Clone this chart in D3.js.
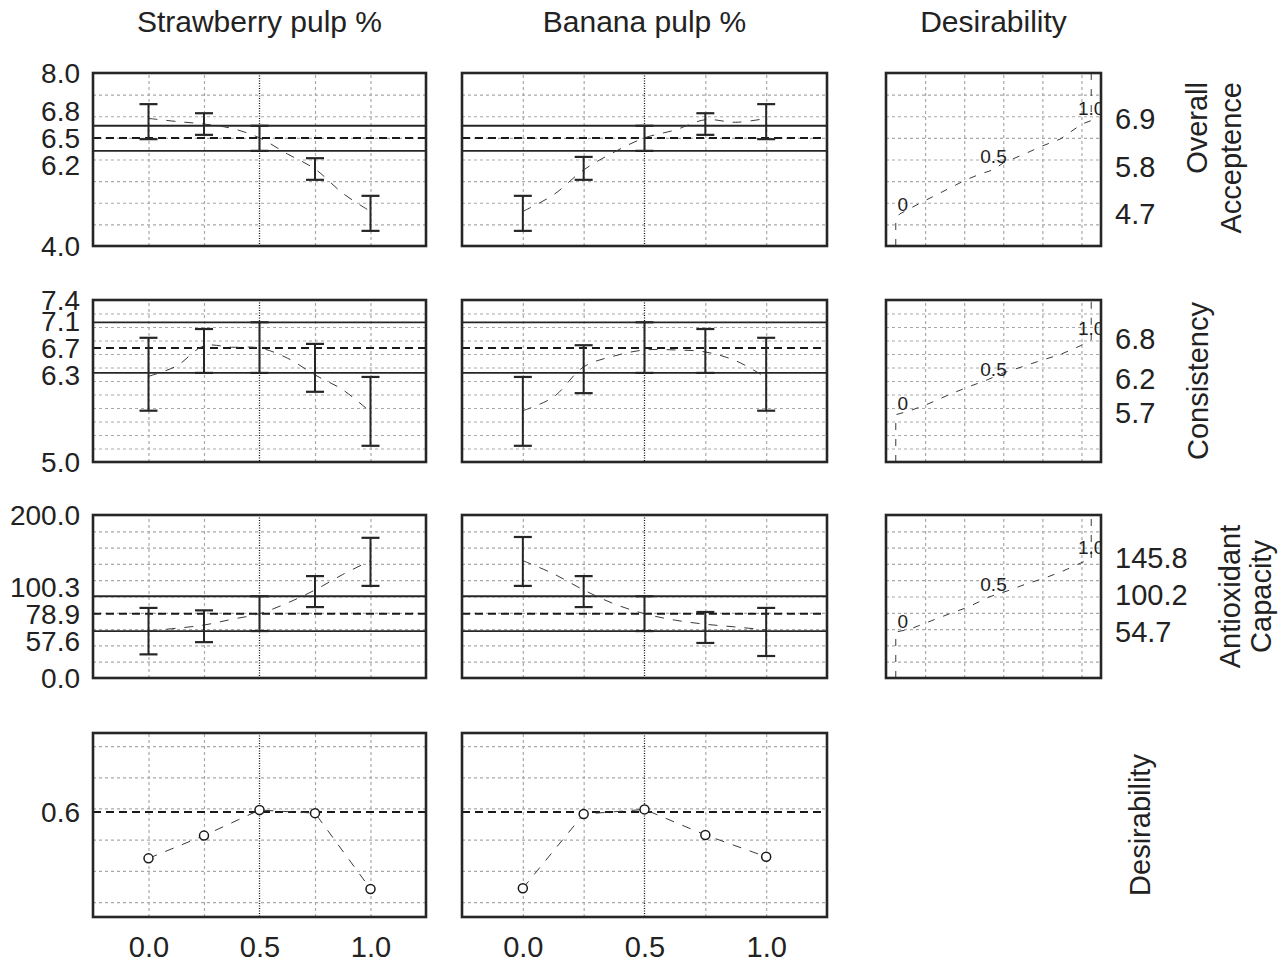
<!DOCTYPE html>
<html>
<head>
<meta charset="utf-8">
<script src="https://cdn.jsdelivr.net/npm/d3@7"></script>
<style>
  body { margin: 0; background: #fff; }
  text { font-family: "Liberation Sans", Arial, sans-serif; fill: #222; }
</style>
</head>
<body>
<svg id="chart" width="1287" height="962"></svg>
<script>
const colNames = ["Strawberry pulp %", "Banana pulp %", "Desirability"];
const rowNames = [["Overall", "Acceptence"], ["Consistency"], ["Antioxidant", "Capacity"], ["Desirability"]];

const levels = [0, 0.25, 0.5, 0.75, 1.0];
const traceLevels = [0, 0.125, 0.25, 0.375, 0.5, 0.625, 0.75, 0.875, 1.0];
const factorGrid = [0, 0.25, 0.75, 1.0];
const currentLevel = 0.5;
const xTickValues = [0, 0.5, 1.0];

// Overall acceptence
const accDomain = [4.0, 8.0];
const accGrid = [4.5, 5.0, 5.5, 6.0, 6.5, 7.0, 7.5];
const accPred = 6.5;
const accCI = [6.2, 6.78];
const accStrawLow = [6.47, 6.57, 6.2, 5.53, 4.35];
const accStrawHigh = [7.28, 7.07, 6.78, 6.03, 5.16];
const accBananaLow = [4.35, 5.53, 6.2, 6.57, 6.47];
const accBananaHigh = [5.16, 6.06, 6.78, 7.07, 7.28];
const accStrawTrace = [6.95, 6.88, 6.82, 6.72, 6.5, 6.13, 5.78, 5.22, 4.8];
const accBananaTrace = [4.8, 5.18, 5.76, 6.17, 6.5, 6.68, 6.92, 6.86, 6.95];
const accDesirLabels = [4.7, 5.8, 6.9];
const accDesirD = [0, 0, 0.02, 0.124, 0.359, 0.43, 0.497, 0.55, 0.66, 0.748, 0.84, 0.953, 1.0, 1.0];
const accDesirV = [4.0, 4.65, 4.74, 4.99, 5.53, 5.66, 5.76, 5.92, 6.13, 6.31, 6.47, 6.82, 6.9, 8.0];

// Consistency
const conDomain = [5.0, 7.4];
const conGrid = [5.2, 5.4, 5.6, 5.8, 6.0, 6.2, 6.4, 6.6, 6.8, 7.0, 7.2];
const conPred = 6.69;
const conCI = [6.32, 7.07];
const conStrawLow = [5.76, 6.32, 6.32, 6.04, 5.24];
const conStrawHigh = [6.84, 6.97, 7.07, 6.75, 6.26];
const conBananaLow = [5.24, 6.02, 6.32, 6.32, 5.76];
const conBananaHigh = [6.26, 6.73, 7.07, 6.97, 6.84];
const conStrawTrace = [6.27, 6.42, 6.72, 6.70, 6.69, 6.54, 6.29, 6.07, 5.74];
const conBananaTrace = [5.76, 5.96, 6.41, 6.57, 6.66, 6.66, 6.63, 6.5, 6.25];
const conDesirLabels = [5.7, 6.2, 6.8];
const conDesirD = [0, 0, 0.073, 0.165, 0.267, 0.359, 0.462, 0.559, 0.646, 0.738, 0.84, 0.943, 1.0, 1.0];
const conDesirV = [5.0, 5.70, 5.76, 5.86, 5.99, 6.10, 6.21, 6.33, 6.41, 6.50, 6.59, 6.72, 6.81, 7.4];

// Antioxidant capacity
const antDomain = [0, 200];
const antGrid = [20, 40, 60, 80, 100, 120, 140, 160, 180];
const antPred = 78.9;
const antCI = [57.6, 100.3];
const antStrawLow = [29, 44, 57.6, 87, 113];
const antStrawHigh = [86, 83, 100.3, 125, 172];
const antBananaLow = [113, 87, 57.6, 43, 27];
const antBananaHigh = [173, 125, 100.3, 81, 86];
const antStrawTrace = [58, 61, 65, 72, 78.9, 92, 108, 127, 144];
const antBananaTrace = [144, 128, 108, 91, 78.9, 71, 66, 62.6, 59];
const antDesirLabels = [54.7, 100.2, 145.8];
const antDesirD = [0, 0, 0.073, 0.18, 0.272, 0.37, 0.477, 0.569, 0.666, 0.763, 0.856, 0.958, 1.0, 1.0];
const antDesirV = [0, 56.4, 60, 70, 78.5, 87, 99.4, 106.7, 115.3, 122.7, 131.3, 142.3, 146, 200];

// Desirability
const desDomain = [0.252, 0.842];
const desGrid = [0.3, 0.4, 0.5, 0.6, 0.7, 0.8];
const desPred = 0.589;
const desStraw = [0.44, 0.513, 0.595, 0.585, 0.342];
const desBanana = [0.344, 0.582, 0.597, 0.515, 0.445];

const desirCurveTicks = [0, 0.5, 1.0];
const desirCurveText = ["0", "0.5", "1.0"];
const desirGrid = [0.15, 0.35, 0.55, 0.75, 0.95];

// ---- layout ----
const colX = [[93, 426], [462, 827]];
const desX = [886, 1101];
const rowY = [[73, 246], [300, 462], [515, 678], [733, 917]];
const rowLabelX = [[1207, 1241], [1208], [1240, 1271], [1150]];
const rowLabelAnchor = [{ anchor: "end", y: 82 }, null, null, null];
const labelGap = 27;
const ink = "#262626";
const fmt = d3.format(".1f");

const rows = [
  { domain: accDomain, grid: accGrid, pred: accPred, ci: accCI, range: true,
    factors: [{ lo: accStrawLow, hi: accStrawHigh, trace: accStrawTrace },
              { lo: accBananaLow, hi: accBananaHigh, trace: accBananaTrace }],
    desir: { d: accDesirD, v: accDesirV, labels: accDesirLabels } },
  { domain: conDomain, grid: conGrid, pred: conPred, ci: conCI, range: true,
    factors: [{ lo: conStrawLow, hi: conStrawHigh, trace: conStrawTrace },
              { lo: conBananaLow, hi: conBananaHigh, trace: conBananaTrace }],
    desir: { d: conDesirD, v: conDesirV, labels: conDesirLabels } },
  { domain: antDomain, grid: antGrid, pred: antPred, ci: antCI, range: true,
    factors: [{ lo: antStrawLow, hi: antStrawHigh, trace: antStrawTrace },
              { lo: antBananaLow, hi: antBananaHigh, trace: antBananaTrace }],
    desir: { d: antDesirD, v: antDesirV, labels: antDesirLabels } },
  { domain: desDomain, grid: desGrid, pred: desPred, ci: null, range: false,
    factors: [{ points: desStraw }, { points: desBanana }],
    desir: null }
];

const svg = d3.select("#chart");
const defs = svg.append("defs");

function clipRect(id, x0, y0, x1, y1) {
  defs.append("clipPath").attr("id", id)
    .append("rect").attr("x", x0).attr("y", y0).attr("width", x1 - x0).attr("height", y1 - y0);
  return `url(#${id})`;
}

function drawGrid(g, x, y, xs, ys) {
  const [x0, x1] = x.range(), [y1, y0] = y.range();
  g.append("g").attr("transform", `translate(${x0},0)`)
    .call(d3.axisLeft(y).tickValues(ys).tickSize(-(x1 - x0)).tickFormat(""))
    .call(a => a.select(".domain").remove())
    .selectAll("line").attr("stroke", "#a9a9a9").attr("stroke-width", 1.2).attr("stroke-dasharray", "3,3");
  g.append("g").attr("transform", `translate(0,${y1})`)
    .call(d3.axisBottom(x).tickValues(xs).tickSize(-(y1 - y0)).tickFormat(""))
    .call(a => a.select(".domain").remove())
    .selectAll("line").attr("stroke", "#a9a9a9").attr("stroke-width", 1.2).attr("stroke-dasharray", "3,3");
}

function frame(x0, y0, x1, y1) {
  svg.append("rect").attr("x", x0).attr("y", y0).attr("width", x1 - x0).attr("height", y1 - y0)
    .attr("fill", "none").attr("stroke", ink).attr("stroke-width", 2.6);
}

rows.forEach((row, ri) => {
  const [y0, y1] = rowY[ri];
  const y = d3.scaleLinear().domain(row.domain).range([y1, y0]);

  // factor panels
  row.factors.forEach((f, ci) => {
    const [x0, x1] = colX[ci];
    const x = d3.scaleLinear().domain([-0.25, 1.25]).range([x0, x1]);
    const g = svg.append("g").attr("clip-path", clipRect(`c${ri}${ci}`, x0, y0, x1, y1));
    drawGrid(g, x, y, factorGrid, row.grid);

    // current setting
    g.append("line").attr("x1", x(currentLevel)).attr("x2", x(currentLevel)).attr("y1", y0).attr("y2", y1)
      .attr("stroke", "#111").attr("stroke-width", 1.3).attr("stroke-dasharray", "1,1.5");

    if (row.ci) {
      g.selectAll(".ci").data(row.ci).join("line")
        .attr("x1", x0).attr("x2", x1).attr("y1", d => y(d)).attr("y2", d => y(d))
        .attr("stroke", ink).attr("stroke-width", 1.8);
    }
    g.append("line").attr("x1", x0).attr("x2", x1).attr("y1", y(row.pred)).attr("y2", y(row.pred))
      .attr("stroke", "#1a1a1a").attr("stroke-width", 2).attr("stroke-dasharray", "8,5");

    if (f.trace) {
      const line = d3.line().x((d, i) => x(traceLevels[i])).y(d => y(d)).curve(d3.curveCatmullRom);
      g.append("path").attr("d", line(f.trace)).attr("fill", "none")
        .attr("stroke", "#3a3a3a").attr("stroke-width", 1).attr("stroke-dasharray", "9,9");

      const bars = g.selectAll(".bar").data(levels).join("g");
      bars.append("line").attr("x1", d => x(d)).attr("x2", d => x(d))
        .attr("y1", (d, i) => y(f.lo[i])).attr("y2", (d, i) => y(f.hi[i]))
        .attr("stroke", ink).attr("stroke-width", 2);
      bars.append("line").attr("x1", d => x(d) - 9).attr("x2", d => x(d) + 9)
        .attr("y1", (d, i) => y(f.hi[i])).attr("y2", (d, i) => y(f.hi[i]))
        .attr("stroke", ink).attr("stroke-width", 2.2);
      bars.append("line").attr("x1", d => x(d) - 9).attr("x2", d => x(d) + 9)
        .attr("y1", (d, i) => y(f.lo[i])).attr("y2", (d, i) => y(f.lo[i]))
        .attr("stroke", ink).attr("stroke-width", 2.2);
    } else {
      const line = d3.line().x((d, i) => x(levels[i])).y(d => y(d));
      g.append("path").attr("d", line(f.points)).attr("fill", "none")
        .attr("stroke", "#3a3a3a").attr("stroke-width", 1).attr("stroke-dasharray", "9,9");
      g.selectAll(".pt").data(f.points).join("circle")
        .attr("cx", (d, i) => x(levels[i])).attr("cy", d => y(d)).attr("r", 4.5)
        .attr("fill", "#fff").attr("stroke", "#1a1a1a").attr("stroke-width", 1.5);
    }
    frame(x0, y0, x1, y1);

    if (ri === rows.length - 1) {
      svg.append("g").attr("transform", `translate(0,${y1 + 19})`)
        .call(d3.axisBottom(x).tickValues(xTickValues).tickSize(0).tickFormat(fmt))
        .call(a => a.select(".domain").remove())
        .selectAll("text").attr("font-size", 29).attr("fill", "#222")
        .style("font-family", "'Liberation Sans', Arial, sans-serif").attr("dy", "0.71em").attr("y", 0);
    }
  });

  // left value labels
  const labs = [];
  if (row.range) {
    labs.push({ v: row.domain[1], y: y(row.domain[1]) });
    labs.push({ v: row.domain[0], y: y(row.domain[0]) });
  }
  const yMid = y(row.pred);
  labs.push({ v: row.pred, y: yMid });
  if (row.ci) {
    labs.push({ v: row.ci[1], y: Math.min(y(row.ci[1]), yMid - labelGap) });
    labs.push({ v: row.ci[0], y: Math.max(y(row.ci[0]), yMid + labelGap) });
  }
  svg.append("g").selectAll("text").data(labs).join("text")
    .attr("x", 80).attr("y", d => d.y).attr("dy", "0.36em")
    .attr("text-anchor", "end").attr("font-size", 28).text(d => fmt(d.v));

  // desirability function panel
  if (row.desir) {
    const [x0, x1] = desX;
    const x = d3.scaleLinear().domain([-0.05, 1.05]).range([x0, x1]);
    const g = svg.append("g").attr("clip-path", clipRect(`d${ri}`, x0, y0, x1, y1));
    drawGrid(g, x, y, desirGrid, row.grid);
    const line = d3.line().x((d, i) => x(row.desir.d[i])).y(d => y(d));
    g.append("path").attr("d", line(row.desir.v)).attr("fill", "none")
      .attr("stroke", "#3a3a3a").attr("stroke-width", 1).attr("stroke-dasharray", "7,9");
    const shift = [7, 0, 0];
    g.selectAll(".dl").data(desirCurveTicks).join("text")
      .attr("x", (d, i) => x(d) + shift[i]).attr("y", (d, i) => y(row.desir.labels[i]) - 12)
      .attr("dy", "0.36em").attr("text-anchor", "middle").attr("font-size", 19)
      .attr("fill", "#333").text((d, i) => desirCurveText[i]);
    frame(x0, y0, x1, y1);

    svg.append("g").selectAll("text").data(row.desir.labels).join("text")
      .attr("x", 1115).attr("y", d => y(d) - 2).attr("dy", "0.36em")
      .attr("font-size", 29).text(d => fmt(d));
  }

  // row title
  const names = rowNames[ri];
  const pos = rowLabelAnchor[ri];
  names.forEach((name, li) => {
    svg.append("text")
      .attr("transform", `translate(${rowLabelX[ri][li]},${pos ? pos.y : (y0 + y1) / 2}) rotate(-90)`)
      .attr("text-anchor", pos ? pos.anchor : "middle").attr("font-size", 29).text(name);
  });
});

// column titles
const titleX = [(colX[0][0] + colX[0][1]) / 2, (colX[1][0] + colX[1][1]) / 2, (desX[0] + desX[1]) / 2];
svg.append("g").selectAll("text").data(colNames).join("text")
  .attr("x", (d, i) => titleX[i]).attr("y", 32)
  .attr("text-anchor", "middle").attr("font-size", 30).text(d => d);
</script>
</body>
</html>
